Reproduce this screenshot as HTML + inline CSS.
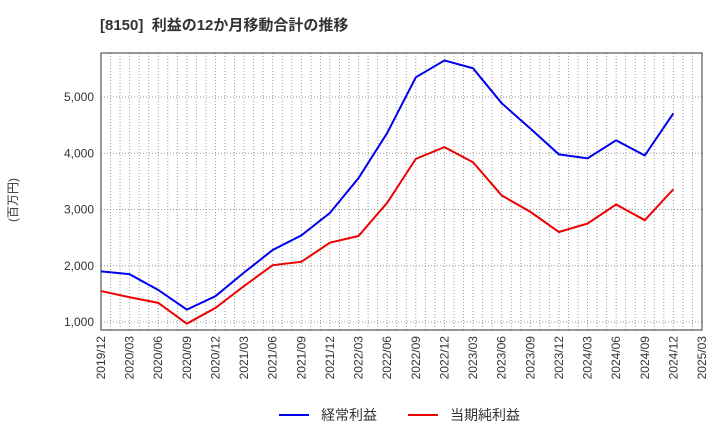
<!DOCTYPE html>
<html><head><meta charset="utf-8"><style>
body{margin:0;background:#fff;font-family:"Liberation Sans","Noto Sans CJK JP",sans-serif;}
svg text{font-family:"Liberation Sans","Noto Sans CJK JP",sans-serif;}
</style></head><body>
<svg id="chart" width="720" height="440" xmlns="http://www.w3.org/2000/svg">
<text x="100" y="30" font-size="15" font-weight="bold" fill="#333">[8150]&#160; 利益の12か月移動合計の推移</text>
<text transform="translate(17,200) rotate(-90)" font-size="12" fill="#333" text-anchor="middle">(百万円)</text>
<g id="grid"></g><g id="axes"></g><g id="series"></g>
<g>
<line x1="279" y1="415" x2="309" y2="415" stroke="#0000ee" stroke-width="2"/>
<text x="321" y="420" font-size="14" fill="#333">経常利益</text>
<line x1="408" y1="415" x2="438" y2="415" stroke="#ee0000" stroke-width="2"/>
<text x="450" y="420" font-size="14" fill="#333">当期純利益</text>
</g>
</svg>
<script>
const categories=["2019/12","2020/03","2020/06","2020/09","2020/12","2021/03","2021/06","2021/09","2021/12","2022/03","2022/06","2022/09","2022/12","2023/03","2023/06","2023/09","2023/12","2024/03","2024/06","2024/09","2024/12","2025/03"];
const ordinaryProfit=[1900,1850,1570,1220,1460,1880,2280,2540,2940,3560,4360,5350,5650,5510,4890,4440,3980,3910,4230,3960,4710];
const netProfit=[1550,1440,1340,970,1250,1640,2010,2070,2410,2530,3120,3900,4110,3840,3250,2960,2600,2750,3090,2810,3360];
const yTicks=[1000,2000,3000,4000,5000];
const yTickLabels=["1,000","2,000","3,000","4,000","5,000"];
const NS="http://www.w3.org/2000/svg";
const L=101,R=702,T=53,B=330;
const x=i=>L+(R-L)*i/(categories.length-1);
const y=v=>322-(v-1000)*(225/4000);
function mk(tag,attrs,parent){const e=document.createElementNS(NS,tag);for(const k in attrs)e.setAttribute(k,attrs[k]);document.getElementById(parent).appendChild(e);return e;}
for(let m=1;m<(categories.length-1)*3;m++){const xx=L+(R-L)*m/((categories.length-1)*3);
const g=mk('line',{x1:xx,x2:xx,y1:T,y2:B,stroke:'#999','stroke-dasharray':'1,2','stroke-width':1},'grid');

}
yTicks.forEach((v,i)=>{const g=mk('line',{x1:L,x2:R,y1:y(v),y2:y(v),stroke:'#999','stroke-dasharray':'1,2'},'grid');


const t=mk('text',{x:L-7,y:y(v)+4,'font-size':12,fill:'#333','text-anchor':'end'},'axes');t.textContent=yTickLabels[i];

});
const fr=mk('rect',{x:L,y:T,width:R-L,height:B-T,fill:'none',stroke:'#333'},'axes');


categories.forEach((c,i)=>{const t=mk('text',{transform:`translate(${x(i)+4},${B+6}) rotate(-90)`,'font-size':12,fill:'#333','text-anchor':'end'},'axes');t.textContent=c;

});
function line(data,color,name){const p=mk('polyline',{points:data.map((v,i)=>x(i)+','+y(v)).join(' '),fill:'none',stroke:color,'stroke-width':2},'series');

}
line(ordinaryProfit,'#0000ee','ordinary-profit-line');
line(netProfit,'#ee0000','net-profit-line');
</script>
</body></html>
